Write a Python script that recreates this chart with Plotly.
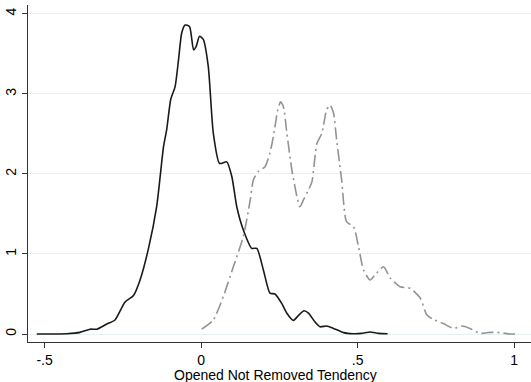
import plotly.graph_objects as go

# Solid (black) density curve
solid_x = [-0.525, -0.429, -0.387, -0.355, -0.333, -0.301, -0.275, -0.243, -0.216, -0.195,
           -0.168, -0.142, -0.120, -0.110, -0.097, -0.083, -0.072, -0.062, -0.051, -0.037,
           -0.024, -0.016, -0.005, 0.007, 0.023, 0.039, 0.059, 0.082, 0.098, 0.114,
           0.135, 0.162, 0.178, 0.199, 0.220, 0.236, 0.258, 0.274, 0.295, 0.313,
           0.329, 0.343, 0.364, 0.380, 0.401, 0.423, 0.455, 0.487, 0.513, 0.540,
           0.567, 0.596]
solid_y = [0.0, 0.004, 0.02, 0.06, 0.06, 0.125, 0.175, 0.40, 0.48, 0.675,
           1.07, 1.59, 2.34, 2.55, 2.93, 3.09, 3.43, 3.76, 3.86, 3.84,
           3.55, 3.59, 3.72, 3.68, 3.34, 2.51, 2.13, 2.15, 1.97, 1.59,
           1.30, 1.07, 1.07, 0.80, 0.51, 0.50, 0.38, 0.26, 0.17, 0.24,
           0.29, 0.26, 0.15, 0.09, 0.10, 0.07, 0.017, 0.004, 0.008, 0.025,
           0.008, 0.004]

# Dash-dot (gray) density curve
dash_x = [0.002, 0.039, 0.071, 0.103, 0.135, 0.157, 0.167, 0.183, 0.204, 0.220,
          0.231, 0.245, 0.254, 0.263, 0.274, 0.290, 0.306, 0.316, 0.327, 0.343,
          0.354, 0.370, 0.386, 0.401, 0.412, 0.423, 0.433, 0.449, 0.465, 0.487,
          0.503, 0.519, 0.540, 0.556, 0.583, 0.604, 0.636, 0.668, 0.700, 0.721,
          0.742, 0.774, 0.806, 0.833, 0.859, 0.891, 0.923, 0.955, 0.987, 1.003]
dash_y = [0.06, 0.175, 0.47, 0.84, 1.22, 1.675, 1.925, 2.03, 2.09, 2.26,
          2.47, 2.80, 2.90, 2.84, 2.51, 2.05, 1.72, 1.59, 1.675, 1.80,
          1.90, 2.38, 2.51, 2.80, 2.86, 2.76, 2.425, 1.925, 1.40, 1.34,
          1.09, 0.80, 0.675, 0.74, 0.84, 0.70, 0.59, 0.57, 0.45, 0.24,
          0.18, 0.13, 0.07, 0.10, 0.07, 0.008, 0.02, 0.017, 0.0, 0.0]

x_tickvals = [-0.5, 0, 0.5, 1]
x_ticktext = ["-.5", "0", ".5", "1"]
y_tickvals = [0, 1, 2, 3, 4]
y_ticktext = ["0", "1", "2", "3", "4"]
x_title = "Opened Not Removed Tendency"

fig = go.Figure()
fig.add_trace(go.Scatter(x=solid_x, y=solid_y, mode="lines",
                         line=dict(color="#1a1a1a", width=1.6, shape="spline", smoothing=0.6),
                         showlegend=False))
fig.add_trace(go.Scatter(x=dash_x, y=dash_y, mode="lines",
                         line=dict(color="#939393", width=1.6, shape="spline", smoothing=0.6,
                                   dash="12px,4px,2px,4px"),
                         showlegend=False))

fig.update_layout(
    width=531, height=382,
    margin=dict(l=28, r=0, t=5, b=40),
    paper_bgcolor="white", plot_bgcolor="white",
    font=dict(family="Liberation Sans, Arial, sans-serif", size=14, color="#000"),
    xaxis=dict(range=[-0.553, 1.054], tickvals=x_tickvals, ticktext=x_ticktext,
               showgrid=False, zeroline=False, showline=True, linecolor="#333",
               linewidth=1, ticks="outside", ticklen=5, tickcolor="#333",
               automargin=False, tickfont=dict(size=14)),
    yaxis=dict(range=[-0.1, 4.11], tickvals=y_tickvals, ticktext=y_ticktext,
               showgrid=True, gridcolor="#e6f0f2", gridwidth=1, zeroline=False,
               showline=True, linecolor="#333", linewidth=1, ticks="outside",
               ticklen=5, tickcolor="#333", tickangle=-90, automargin=False,
               tickfont=dict(size=14)),
    annotations=[dict(text=x_title, x=0.493, xref="paper", y=0, yref="paper",
                      xanchor="center", yanchor="middle", yshift=-33, showarrow=False,
                      font=dict(size=14))],
)

fig.write_html("out.html", config={"displayModeBar": False},
               post_script="document.body.style.margin='0';")
